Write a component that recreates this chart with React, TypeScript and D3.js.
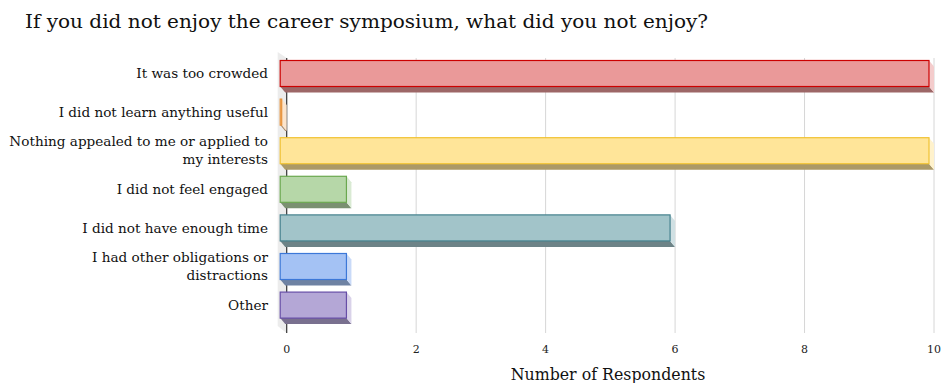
import React from "react";
import * as d3 from "d3";

const categories: string[][] = [
  ["It was too crowded"],
  ["I did not learn anything useful"],
  ["Nothing appealed to me or applied to", "my interests"],
  ["I did not feel engaged"],
  ["I did not have enough time"],
  ["I had other obligations or", "distractions"],
  ["Other"],
];
const values: number[] = [10, 0, 10, 1, 6, 1, 1];
const fills = ["#ea9999", "#f9cb9c", "#ffe599", "#b6d7a8", "#a2c4c9", "#a4c2f4", "#b4a7d6"];
const strokes = ["#cc0000", "#e69138", "#f1c232", "#6aa84f", "#45818e", "#3c78d8", "#674ea7"];
const sides = ["#f4cccc", "#fce5cd", "#fff2cc", "#d9ead3", "#d0e0e3", "#c9daf8", "#d9d2e9"];
const tickValues = [0, 2, 4, 6, 8, 10];
const title = "If you did not enjoy the career symposium, what did you not enjoy?";
const xTitle = "Number of Respondents";

const FONT = "'DejaVu Serif', Georgia, serif";

export default function App() {
  const W = 942, H = 383;
  const x = d3.scaleLinear().domain([0, 10]).range([286.7, 934]);
  const y = d3
    .scaleBand<number>()
    .domain(values.map((_, i) => i))
    .range([54.2, 324.4])
    .paddingInner(0.326)
    .paddingOuter(0.163);
  const bh = y.bandwidth();
  const dx = 5, dy = 6;
  const x0 = x(0);
  const top = 58, bottom = 333;

  const darker = (c: string) => {
    const col = d3.rgb(c);
    return d3.rgb(col.r * 0.67, col.g * 0.67, col.b * 0.67).toString();
  };

  return (
    <svg width={W} height={H} style={{ position: "absolute", left: 0, top: 0, background: "#fff" }}>
      <text x={25} y={28} fontFamily={FONT} fontSize={18} fill="#111" textLength={683} lengthAdjust="spacingAndGlyphs">
        {title}
      </text>
      {/* side wall */}
      <polygon
        points={`${x0 - 9},${top - 6} ${x0},${top} ${x0},${bottom} ${x0 - 9},${bottom - 7}`}
        fill="#ececec"
      />
      {/* gridlines */}
      {tickValues.filter((t) => t > 0).map((t) => (
        <line key={t} x1={x(t)} x2={x(t)} y1={top} y2={bottom} stroke="#d6d6d6" strokeWidth={1} />
      ))}
      <line x1={x0} x2={x0} y1={top} y2={bottom} stroke="#333" strokeWidth={1.2} />
      {/* bars */}
      {values.map((v, i) => {
        const yt = y(i) as number;
        const yb = yt + bh;
        const fx0 = x0 - 6.5;
        const fx1 = Math.max(x(v) - 5, fx0 + 1.5);
        return (
          <g key={i}>
            <polygon
              points={`${fx0},${yb} ${fx1},${yb} ${fx1 + dx},${yb + dy} ${fx0 + dx},${yb + dy}`}
              fill={darker(fills[i])}
            />
            <polygon
              points={`${fx1},${yt} ${fx1 + dx},${yt + dy} ${fx1 + dx},${yb + dy} ${fx1},${yb}`}
              fill={sides[i]}
            />
            <rect x={fx0} y={yt} width={fx1 - fx0} height={bh} fill={fills[i]} stroke={strokes[i]} strokeWidth={1.2} />
          </g>
        );
      })}
      {/* category labels */}
      {categories.map((lines, i) => {
        const cy = (y(i) as number) + bh / 2;
        const lh = 18;
        const start = cy - ((lines.length - 1) * lh) / 2;
        return (
          <text key={i} textAnchor="end" fontFamily={FONT} fontSize={13.6} fill="#111">
            {lines.map((l, j) => (
              <tspan key={j} x={268} y={start + j * lh} dy="0.35em">
                {l}
              </tspan>
            ))}
          </text>
        );
      })}
      {/* tick labels */}
      {tickValues.map((t) => (
        <text key={t} x={x(t)} y={349} dy="0.35em" textAnchor="middle" fontFamily={FONT} fontSize={11} fill="#222">
          {t}
        </text>
      ))}
      <text x={608} y={374} dy="0.35em" textAnchor="middle" fontFamily={FONT} fontSize={15.8} fill="#111">
        {xTitle}
      </text>
    </svg>
  );
}
